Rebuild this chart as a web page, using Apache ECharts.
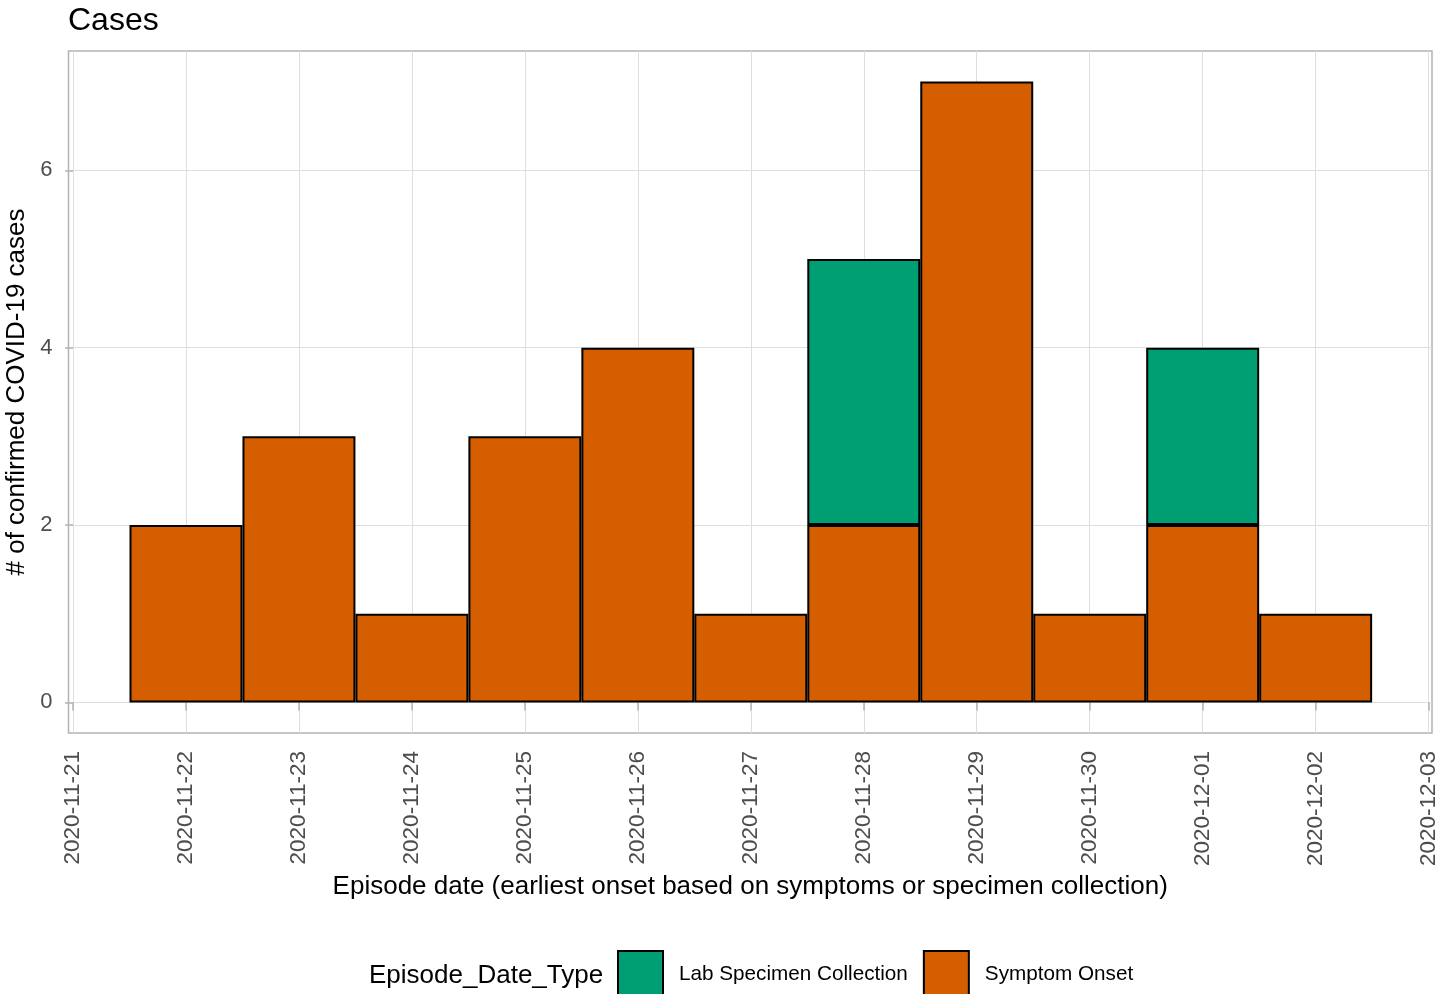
<!DOCTYPE html>
<html>
<head>
<meta charset="utf-8">
<script src="https://cdn.jsdelivr.net/npm/echarts@6/dist/echarts.min.js"></script>
<style>
html,body{margin:0;padding:0;background:#fff;}
#chart{width:1441px;height:994px;}
</style>
</head>
<body>
<div id="chart"></div>
<script>
// Day labels (index 0 = 2020-11-21)
var tickLabels = ['2020-11-21','2020-11-22','2020-11-23','2020-11-24','2020-11-25','2020-11-26','2020-11-27','2020-11-28','2020-11-29','2020-11-30','2020-12-01','2020-12-02','2020-12-03'];
var tickIndex = [0,1,2,3,4,5,6,7,8,9,10,11,12];
var yTicks = [0,2,4,6];
// Bars: day index and counts per day
var barDays = [1,2,3,4,5,6,7,8,9,10,11];
var symptomCounts = [2,3,1,3,4,1,2,7,1,2,1];
var labCounts = [0,0,0,0,0,0,3,0,0,2,0];

var FONT = 'Liberation Sans, Arial, sans-serif';
var chart = echarts.init(document.getElementById('chart'));

// rows: [count, day] so that the count column is stacked
function rows(xs, ys){ return xs.map(function(x,i){ return [ys[i] === 0 ? null : ys[i], x]; }); }

chart.setOption({
  animation: false,
  backgroundColor: '#fff',
  title: [
    {text: 'Cases', left: 63, top: 0, textStyle: {fontFamily: FONT, fontSize: 32, fontWeight: 'normal', color: '#000'}},
    {text: 'Episode_Date_Type', left: 364, top: 958, textStyle: {fontFamily: FONT, fontSize: 26, fontWeight: 'normal', color: '#000'}}
  ],
  legend: {
    left: 612, top: 945,
    itemWidth: 45, itemHeight: 46, itemGap: 15,
    icon: 'rect',
    data: ['Lab Specimen Collection', 'Symptom Onset'],
    textStyle: {fontFamily: FONT, fontSize: 20.7, color: '#000', padding: [2,0,0,11]},
    itemStyle: {borderColor: '#000', borderWidth: 2}
  },
  grid: {
    left: 68.5, right: 9, top: 51, bottom: 261,
    outerBoundsMode: 'none', containLabel: false,
    show: true, borderColor: '#b3b3b3', borderWidth: 1.5, backgroundColor: 'transparent'
  },
  xAxis: {
    type: 'value', min: -0.04, max: 12.03,
    name: 'Episode date (earliest onset based on symptoms or specimen collection)',
    nameLocation: 'middle', nameGap: 141,
    nameTextStyle: {fontFamily: FONT, fontSize: 26, color: '#000'},
    axisLine: {show: false},
    axisTick: {show: true, customValues: tickIndex, length: 8, lineStyle: {color: '#b3b3b3', width: 1.5}},
    axisLabel: {customValues: tickIndex, rotate: 90, margin: 18, fontFamily: FONT, fontSize: 22.5, color: '#4d4d4d',
      formatter: function(v){ return tickLabels[Math.round(v)]; }},
    splitLine: {show: true, lineStyle: {color: '#dedede', width: 1}}
  },
  yAxis: {
    type: 'value', min: -0.345, max: 7.345,
    name: '# of confirmed COVID-19 cases',
    nameLocation: 'middle', nameGap: 33,
    nameTextStyle: {fontFamily: FONT, fontSize: 26, color: '#000'},
    axisLine: {show: false},
    axisTick: {show: true, customValues: yTicks, length: 8, lineStyle: {color: '#b3b3b3', width: 1.5}},
    axisLabel: {customValues: yTicks, margin: 16, fontFamily: FONT, fontSize: 22, color: '#4d4d4d'},
    splitLine: {show: true, lineStyle: {color: '#dedede', width: 1}}
  },
  series: [
    {name: 'Symptom Onset', type: 'bar', stack: 'c', data: rows(barDays, symptomCounts),
      encode: {x: 1, y: 0},
      barWidth: '100%', barGap: '0%', barCategoryGap: '0%',
      itemStyle: {color: '#D55E00', borderColor: '#000', borderWidth: 2}},
    {name: 'Lab Specimen Collection', type: 'bar', stack: 'c', data: rows(barDays, labCounts),
      encode: {x: 1, y: 0},
      barWidth: '100%', barGap: '0%', barCategoryGap: '0%',
      itemStyle: {color: '#009E73', borderColor: '#000', borderWidth: 2}}
  ]
});
</script>
</body>
</html>
